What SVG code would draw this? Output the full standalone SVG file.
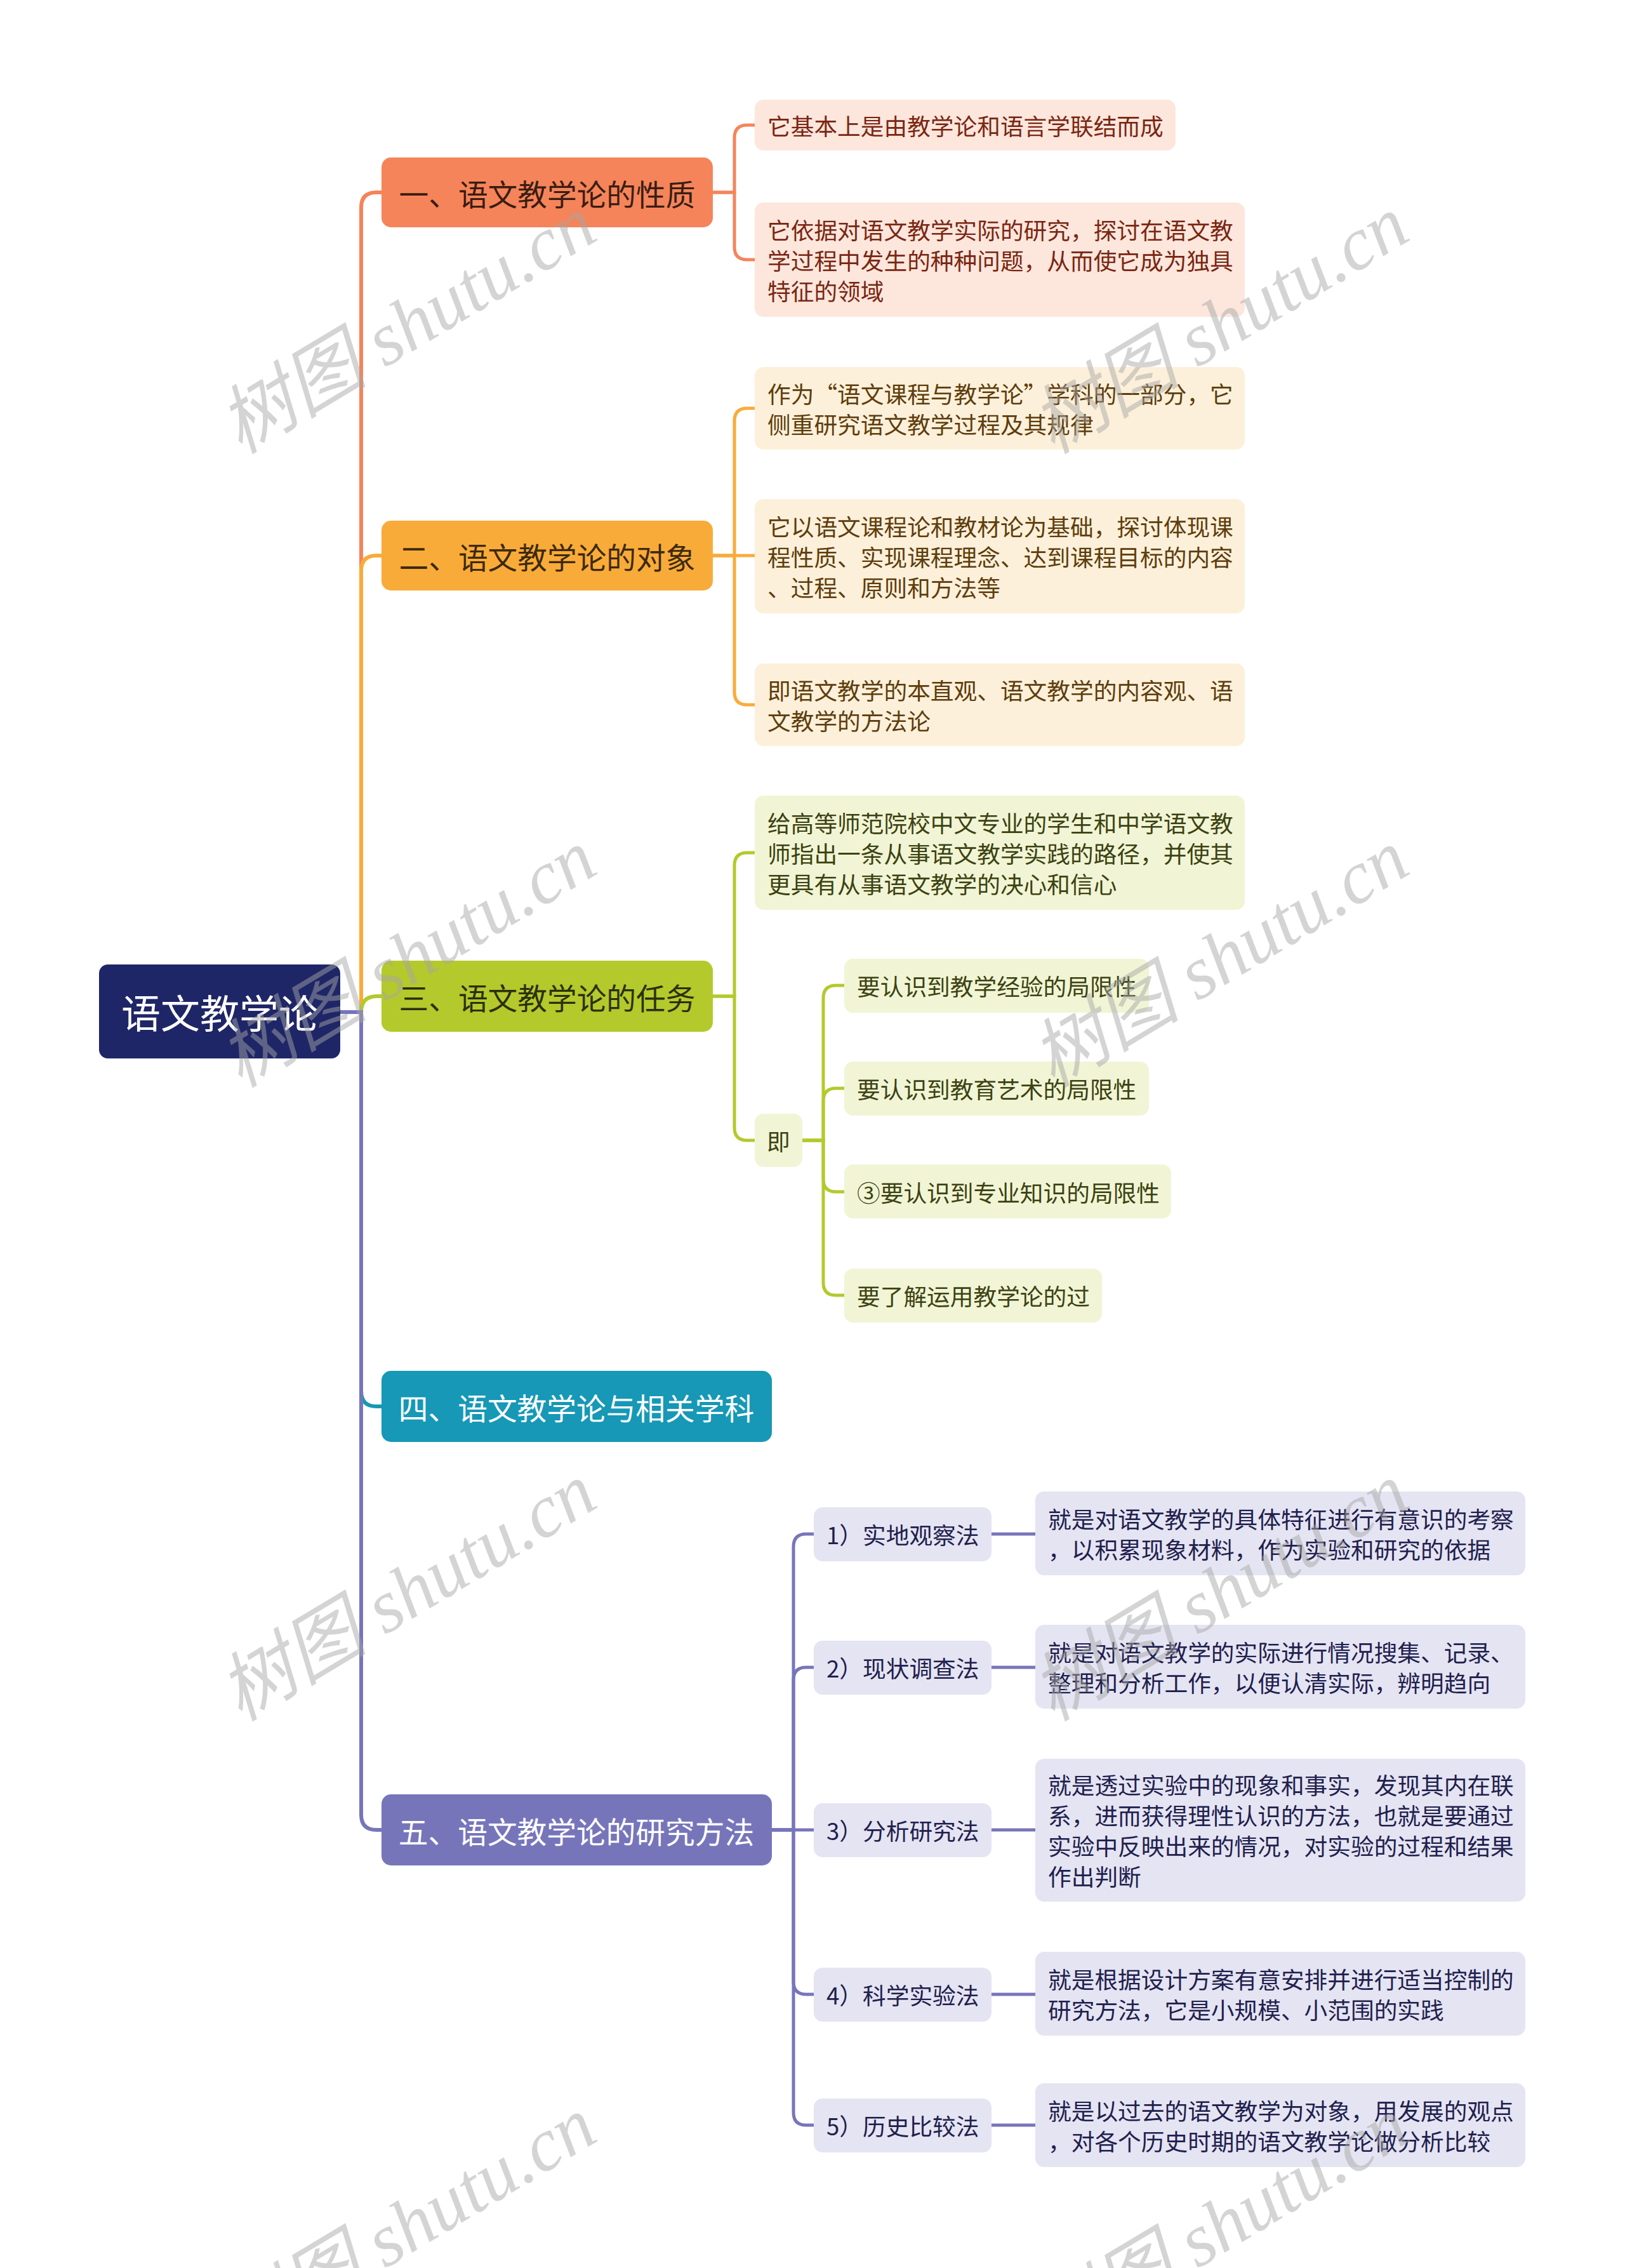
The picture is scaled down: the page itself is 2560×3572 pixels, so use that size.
<svg xmlns="http://www.w3.org/2000/svg" width="2560" height="3572" viewBox="0 0 2560 3572">
<style>
text{font-family:"Noto Sans CJK SC","Liberation Sans",sans-serif;dominant-baseline:central}
.root{font-size:62px;fill:#ffffff;text-anchor:middle}
.br{font-size:46.7px;text-anchor:middle}
.lf{font-size:36.7px}
.c0{fill:none;stroke-width:6;stroke-linecap:butt}
.c1{fill:none;stroke-width:5}
.wm{font-family:"Liberation Serif","Noto Sans CJK SC",serif;font-style:italic;font-size:118px;fill:#a6a6a6;opacity:0.48;text-anchor:middle}
</style>
<rect width="2560" height="3572" fill="#ffffff"/>
<g id="connectors">
<path class="c0" stroke="#F5845A" d="M536,1594 H569 V327 Q569,303 593,303 H604"/>
<path class="c0" stroke="#F9AB3A" d="M536,1594 H569 V899 Q569,875 593,875 H604"/>
<path class="c0" stroke="#B4C92C" d="M536,1594 H569 Q569,1569 594,1569 H604"/>
<path class="c0" stroke="#1698B6" d="M536,1594 H569 V2191 Q569,2215 593,2215 H604"/>
<path class="c0" stroke="#7775BA" d="M536,1594 H569 V2858 Q569,2882 593,2882 H604"/>
<path class="c1" stroke="#F5845A" d="M1120,303 H1157 V217 Q1157,197 1177,197 H1192"/>
<path class="c1" stroke="#F5845A" d="M1120,303 H1157 V389 Q1157,409 1177,409 H1192"/>
<path class="c1" stroke="#F9AB3A" d="M1120,875 H1157 V663 Q1157,643 1177,643 H1192"/>
<path class="c1" stroke="#F9AB3A" d="M1120,875 H1192"/>
<path class="c1" stroke="#F9AB3A" d="M1120,875 H1157 V1090 Q1157,1110 1177,1110 H1192"/>
<path class="c1" stroke="#B4C92C" d="M1120,1569 H1157 V1363 Q1157,1343 1177,1343 H1192"/>
<path class="c1" stroke="#B4C92C" d="M1120,1569 H1157 V1776 Q1157,1796 1177,1796 H1192"/>
<path class="c1" stroke="#B4C92C" d="M1262,1796 H1297 V1572 Q1297,1552 1317,1552 H1333"/>
<path class="c1" stroke="#B4C92C" d="M1262,1796 H1297 V1734 Q1297,1714 1317,1714 H1333"/>
<path class="c1" stroke="#B4C92C" d="M1262,1796 H1297 V1857 Q1297,1877 1317,1877 H1333"/>
<path class="c1" stroke="#B4C92C" d="M1262,1796 H1297 V2020 Q1297,2040 1317,2040 H1333"/>
<path class="c1" stroke="#7775BA" d="M1214,2882 H1250 V2436 Q1250,2416 1270,2416 H1285"/>
<path class="c1" stroke="#7775BA" d="M1214,2882 H1250 V2646 Q1250,2626 1270,2626 H1285"/>
<path class="c1" stroke="#7775BA" d="M1214,2882 H1285"/>
<path class="c1" stroke="#7775BA" d="M1214,2882 H1250 V3121 Q1250,3141 1270,3141 H1285"/>
<path class="c1" stroke="#7775BA" d="M1214,2882 H1250 V3327 Q1250,3347 1270,3347 H1285"/>
<path class="c1" stroke="#7775BA" stroke-width="6" d="M1560,2416 H1633"/>
<path class="c1" stroke="#7775BA" stroke-width="6" d="M1560,2626 H1633"/>
<path class="c1" stroke="#7775BA" stroke-width="6" d="M1560,2882 H1633"/>
<path class="c1" stroke="#7775BA" stroke-width="6" d="M1560,3141 H1633"/>
<path class="c1" stroke="#7775BA" stroke-width="6" d="M1560,3347 H1633"/>
</g>
<g id="root"><rect x="156" y="1519" width="380" height="148" rx="14" fill="#1F2667"/><text class="root" x="346" y="1593">语文教学论</text></g>
<g id="b1"><rect x="601" y="248" width="522" height="110" rx="15" fill="#F5845A"/><text class="br" x="862" y="303" fill="#3a1d12">一、语文教学论的性质</text></g>
<g id="b1l1"><rect x="1189" y="157" width="663" height="80" rx="14" fill="#FDE6DC"/><text class="lf" x="1209" y="197" fill="#7a2612">它基本上是由教学论和语言学联结而成</text></g>
<g id="b1l2"><rect x="1189" y="319" width="772" height="180" rx="14" fill="#FDE6DC"/><text class="lf" x="1209" fill="#7a2612"><tspan x="1209" y="361">它依据对语文教学实际的研究，探讨在语文教</tspan><tspan x="1209" y="409">学过程中发生的种种问题，从而使它成为独具</tspan><tspan x="1209" y="457">特征的领域</tspan></text></g>
<g id="b2"><rect x="601" y="820" width="522" height="110" rx="15" fill="#F9AB3A"/><text class="br" x="862" y="875" fill="#3d2a0c">二、语文教学论的对象</text></g>
<g id="b2l1"><rect x="1189" y="578" width="772" height="130" rx="14" fill="#FDF0DA"/><text class="lf" fill="#5e3d0c"><tspan x="1209" y="619">作为“语文课程与教学论”学科的一部分，它</tspan><tspan x="1209" y="667">侧重研究语文教学过程及其规律</tspan></text></g>
<g id="b2l2"><rect x="1189" y="786" width="772" height="180" rx="14" fill="#FDF0DA"/><text class="lf" fill="#5e3d0c"><tspan x="1209" y="828">它以语文课程论和教材论为基础，探讨体现课</tspan><tspan x="1209" y="876">程性质、实现课程理念、达到课程目标的内容</tspan><tspan x="1209" y="924">、过程、原则和方法等</tspan></text></g>
<g id="b2l3"><rect x="1189" y="1045" width="772" height="130" rx="14" fill="#FDF0DA"/><text class="lf" fill="#5e3d0c"><tspan x="1209" y="1086">即语文教学的本直观、语文教学的内容观、语</tspan><tspan x="1209" y="1134">文教学的方法论</tspan></text></g>
<g id="b3"><rect x="601" y="1513" width="522" height="112" rx="15" fill="#B4C92C"/><text class="br" x="862" y="1569" fill="#2b300c">三、语文教学论的任务</text></g>
<g id="b3l1"><rect x="1189" y="1253" width="772" height="180" rx="14" fill="#F1F5D5"/><text class="lf" fill="#3c4212"><tspan x="1209" y="1295">给高等师范院校中文专业的学生和中学语文教</tspan><tspan x="1209" y="1343">师指出一条从事语文教学实践的路径，并使其</tspan><tspan x="1209" y="1391">更具有从事语文教学的决心和信心</tspan></text></g>
<g id="b3l2"><rect x="1189" y="1754" width="75" height="84" rx="14" fill="#F1F5D5"/><text class="lf" x="1208" y="1796" fill="#3c4212">即</text></g>
<g id="b3s1"><rect x="1330" y="1510" width="480" height="85" rx="14" fill="#F1F5D5"/><text class="lf" x="1350" y="1552" fill="#3c4212">要认识到教学经验的局限性</text></g>
<g id="b3s2"><rect x="1330" y="1672" width="480" height="85" rx="14" fill="#F1F5D5"/><text class="lf" x="1350" y="1714" fill="#3c4212">要认识到教育艺术的局限性</text></g>
<g id="b3s3"><rect x="1330" y="1834" width="515" height="85" rx="14" fill="#F1F5D5"/><text class="lf" x="1350" y="1877" fill="#3c4212">③要认识到专业知识的局限性</text></g>
<g id="b3s4"><rect x="1330" y="1998" width="406" height="85" rx="14" fill="#F1F5D5"/><text class="lf" x="1350" y="2040" fill="#3c4212">要了解运用教学论的过</text></g>
<g id="b4"><rect x="601" y="2159" width="615" height="112" rx="15" fill="#1698B6"/><text class="br" x="908" y="2215" fill="#ffffff">四、语文教学论与相关学科</text></g>
<g id="b5"><rect x="601" y="2826" width="615" height="112" rx="15" fill="#7775BA"/><text class="br" x="908" y="2882" fill="#ffffff">五、语文教学论的研究方法</text></g>
<g id="m1"><rect x="1282" y="2374" width="280" height="85" rx="14" fill="#E5E4F2"/><text class="lf" x="1302" y="2416" fill="#20204e">1）实地观察法</text></g>
<g id="m2"><rect x="1282" y="2584" width="280" height="85" rx="14" fill="#E5E4F2"/><text class="lf" x="1302" y="2626" fill="#20204e">2）现状调查法</text></g>
<g id="m3"><rect x="1282" y="2840" width="280" height="85" rx="14" fill="#E5E4F2"/><text class="lf" x="1302" y="2882" fill="#20204e">3）分析研究法</text></g>
<g id="m4"><rect x="1282" y="3099" width="280" height="85" rx="14" fill="#E5E4F2"/><text class="lf" x="1302" y="3141" fill="#20204e">4）科学实验法</text></g>
<g id="m5"><rect x="1282" y="3305" width="280" height="85" rx="14" fill="#E5E4F2"/><text class="lf" x="1302" y="3347" fill="#20204e">5）历史比较法</text></g>
<g id="m1l"><rect x="1631" y="2349" width="772" height="132" rx="14" fill="#E5E4F2"/><text class="lf" fill="#20204e"><tspan x="1651" y="2391">就是对语文教学的具体特征进行有意识的考察</tspan><tspan x="1651" y="2439">，以积累现象材料，作为实验和研究的依据</tspan></text></g>
<g id="m2l"><rect x="1631" y="2559" width="772" height="132" rx="14" fill="#E5E4F2"/><text class="lf" fill="#20204e"><tspan x="1651" y="2601">就是对语文教学的实际进行情况搜集、记录、</tspan><tspan x="1651" y="2649">整理和分析工作，以便认清实际，辨明趋向</tspan></text></g>
<g id="m3l"><rect x="1631" y="2770" width="772" height="225" rx="14" fill="#E5E4F2"/><text class="lf" fill="#20204e"><tspan x="1651" y="2810">就是透过实验中的现象和事实，发现其内在联</tspan><tspan x="1651" y="2858">系，进而获得理性认识的方法，也就是要通过</tspan><tspan x="1651" y="2906">实验中反映出来的情况，对实验的过程和结果</tspan><tspan x="1651" y="2954">作出判断</tspan></text></g>
<g id="m4l"><rect x="1631" y="3074" width="772" height="132" rx="14" fill="#E5E4F2"/><text class="lf" fill="#20204e"><tspan x="1651" y="3116">就是根据设计方案有意安排并进行适当控制的</tspan><tspan x="1651" y="3164">研究方法，它是小规模、小范围的实践</tspan></text></g>
<g id="m5l"><rect x="1631" y="3281" width="772" height="132" rx="14" fill="#E5E4F2"/><text class="lf" fill="#20204e"><tspan x="1651" y="3323">就是以过去的语文教学为对象，用发展的观点</tspan><tspan x="1651" y="3371">，对各个历史时期的语文教学论做分析比较</tspan></text></g>
<g id="watermarks">
<text class="wm" transform="translate(642,512) rotate(-31)">树图 shutu.cn</text>
<text class="wm" transform="translate(1922,512) rotate(-31)">树图 shutu.cn</text>
<text class="wm" transform="translate(642,1510) rotate(-31)">树图 shutu.cn</text>
<text class="wm" transform="translate(1922,1510) rotate(-31)">树图 shutu.cn</text>
<text class="wm" transform="translate(642,2508) rotate(-31)">树图 shutu.cn</text>
<text class="wm" transform="translate(1922,2508) rotate(-31)">树图 shutu.cn</text>
<text class="wm" transform="translate(642,3506) rotate(-31)">树图 shutu.cn</text>
<text class="wm" transform="translate(1922,3506) rotate(-31)">树图 shutu.cn</text>
</g>
</svg>
